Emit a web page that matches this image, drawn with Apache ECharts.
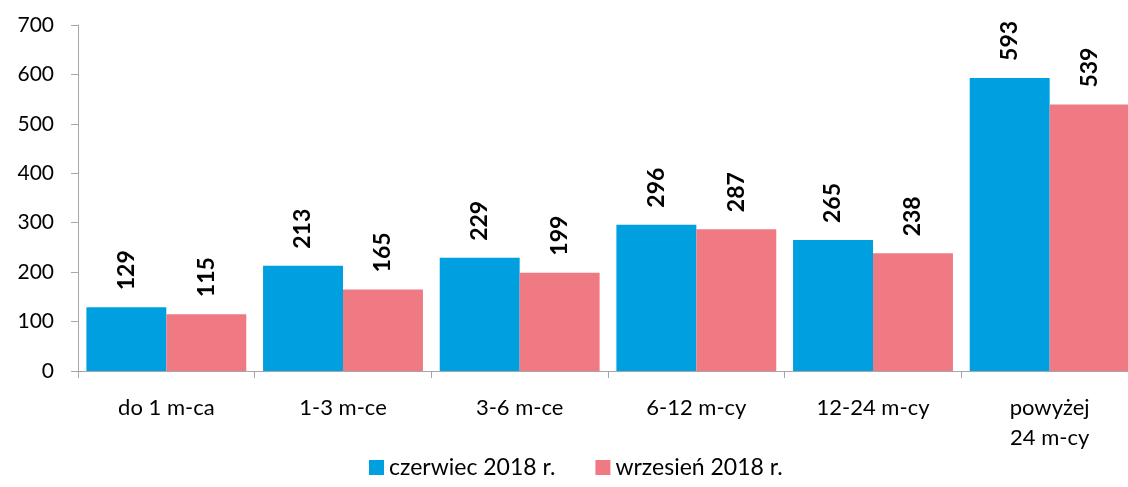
<!DOCTYPE html>
<html>
<head>
<meta charset="utf-8">
<script src="https://cdn.jsdelivr.net/npm/echarts@6/dist/echarts.min.js"></script>
<style>
  html, body { margin: 0; padding: 0; background: #fff; overflow: hidden; }
  /* plot runs past the right edge of the window, like the reference */
  #chart { width: 1138px; height: 487px; }
</style>
</head>
<body>
<div id="chart"></div>
<script>
// Categories and values
const categories = ["do 1 m-ca", "1-3 m-ce", "3-6 m-ce", "6-12 m-cy", "12-24 m-cy", "powyżej\n24 m-cy"];
const june2018 = [129, 213, 229, 296, 265, 593];
const sept2018 = [115, 165, 199, 287, 238, 539];
const yTicks = { min: 0, max: 700, interval: 100 };

const FONT = "Lato, 'Open Sans', sans-serif";
const AXIS_GRAY = "#a6a6a6";

const chart = echarts.init(document.getElementById("chart"), null, { renderer: "canvas" });

const barLabel = {
  show: true,
  position: "top",
  rotate: 90,
  align: "left",
  verticalAlign: "middle",
  distance: 17,
  color: "#000",
  fontFamily: FONT,
  fontWeight: "bold",
  fontSize: 23,
};

chart.setOption({
  animation: false,
  grid: { left: 78, right: 0, top: 25, bottom: 116, containLabel: false },
  legend: {
    bottom: 3,
    left: 364,
    itemWidth: 15,
    itemHeight: 15,
    itemGap: 40,
    icon: "rect",
    textStyle: { fontFamily: FONT, fontSize: 23, color: "#000" },
    data: ["czerwiec 2018 r.", "wrzesień 2018 r."],
  },
  xAxis: {
    type: "category",
    data: categories,
    axisLine: { lineStyle: { color: AXIS_GRAY } },
    axisTick: { show: true, length: 7, lineStyle: { color: AXIS_GRAY } },
    axisLabel: {
      color: "#000",
      fontFamily: FONT,
      fontSize: 22,
      lineHeight: 30,
      margin: 22,
      interval: 0,
    },
  },
  yAxis: {
    type: "value",
    min: yTicks.min,
    max: yTicks.max,
    interval: yTicks.interval,
    splitLine: { show: false },
    axisLine: { show: true, lineStyle: { color: AXIS_GRAY } },
    axisTick: { show: true, length: 7, lineStyle: { color: AXIS_GRAY } },
    axisLabel: { color: "#000", fontFamily: FONT, fontSize: 21, margin: 24 },
  },
  series: [
    {
      name: "czerwiec 2018 r.",
      type: "bar",
      data: june2018,
      barGap: "0%",
      barCategoryGap: "9.5%",
      itemStyle: { color: "#009fe0" },
      label: barLabel,
    },
    {
      name: "wrzesień 2018 r.",
      type: "bar",
      data: sept2018,
      itemStyle: { color: "#f07a84" },
      label: barLabel,
    },
  ],
});
</script>
</body>
</html>
